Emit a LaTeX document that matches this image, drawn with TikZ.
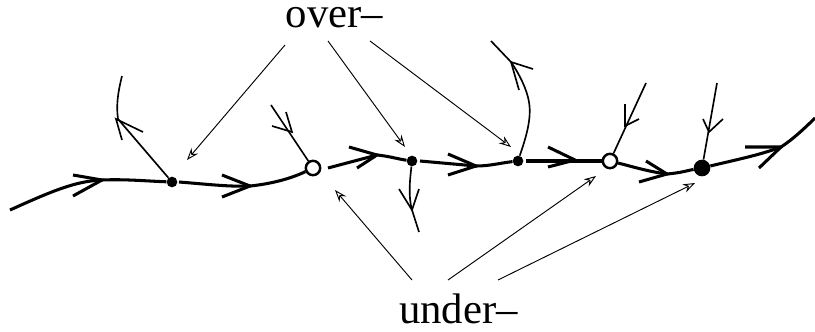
\documentclass[tikz,border=0pt]{standalone}
\usepackage{fontspec}
\setmainfont{Liberation Serif}
\usetikzlibrary{arrows.meta}

\begin{document}
\begin{tikzpicture}[x=0.03cm,y=-0.03cm,
    strand/.style={line width=2.6pt},
    thinstrand/.style={line width=1.4pt},
    pointer/.style={line width=0.8pt,-{Stealth[open,length=3.6mm,width=2.6mm,inset=1.2mm]}},
    crossing/.style={circle,fill=black,inner sep=0pt,minimum size=#1},
    opencrossing/.style={circle,draw,fill=white,line width=2.1pt,inner sep=0pt,minimum size=4.3mm},
    label/.style={font=\fontsize{36.5}{38}\selectfont,inner sep=0pt,anchor=base}]
    \useasboundingbox (0,0) rectangle (815,331);

    % crossings along the line
    \node[crossing=3.2mm] (c1) at (172,182) {};
    \node[opencrossing] (c2) at (313,168) {};
    \node[crossing=3.2mm] (c3) at (412,161) {};
    \node[crossing=3.2mm] (c4) at (518,161) {};
    \node[opencrossing] (c5) at (610,161) {};
    \node[crossing=5mm] (c6) at (702,168) {};

    \node[label] (over) at (334.5,27) {over--};
    \node[label] (under) at (458.5,323) {under--};

    % free ends
    \coordinate (start) at (10,210);
    \coordinate (stop) at (815,118);
    \coordinate (e1) at (122,76);
    \coordinate (e2) at (271,105);
    \coordinate (e3) at (419,232);
    \coordinate (e4) at (491,41);
    \coordinate (e5) at (646,83);
    \coordinate (e6) at (717,83);

    % thick line
    \draw[strand] (start) .. controls (50,192) and (75,181) .. (102,180) .. controls (125,179) and (145,181) .. (c1);
    \draw[strand] (179,182) .. controls (205,184) and (230,187) .. (250,186) .. controls (270,184) and (290,179) .. (c2);
    \draw[strand] (328,168) -- (377,155) .. controls (388,156) and (398,159) .. (c3);
    \draw[strand] (420,161) -- (476,166) .. controls (490,166) and (500,163) .. (c4);
    \draw[strand] (526,161) -- (c5);
    \draw[strand] (c5) .. controls (630,166) and (650,172) .. (667,174) .. controls (680,173) and (690,170) .. (c6);
    \draw[strand] (c6) .. controls (735,160) and (760,155) .. (781,147) .. controls (792,140) and (805,128) .. (stop);
    % barbs on thick line
    \draw[strand] (73,175) -- (102,180) -- (73,196);
    \draw[strand] (222,175) -- (250,186) -- (222,197);
    \draw[strand] (349,147) -- (377,155) -- (357,168);
    \draw[strand] (448,154) -- (476,166) -- (448,175);
    \draw[strand] (548,147) -- (575,160) -- (548,167);
    \draw[strand] (646,161) -- (667,174) -- (639,182);
    \draw[strand] (745,147) -- (781,147) -- (759,168);

    % thin strands
    \draw[thinstrand] (c1) -- (118,119) .. controls (116,105) and (118,92) .. (e1);
    \draw[thinstrand] (122,140) -- (116,119) -- (143,132);
    \draw[thinstrand] (c2) -- (e2);
    \draw[thinstrand] (286,112) -- (292,132) -- (272,126);
    \draw[thinstrand] (c3) .. controls (410,180) and (408,195) .. (412,210) -- (e3);
    \draw[thinstrand] (399,189) -- (412,210) -- (419,189);
    \draw[thinstrand] (c4) .. controls (525,140) and (532,120) .. (529,102) .. controls (527,90) and (520,75) .. (511,62) -- (e4);
    \draw[thinstrand] (519,90) -- (511,62) -- (533,69);
    \draw[thinstrand] (c5) -- (e5);
    \draw[thinstrand] (625,104) -- (625,126) -- (639,119);
    \draw[thinstrand] (c6) -- (e6);
    \draw[thinstrand] (703,119) -- (709,132) -- (723,119);

    % pointers to crossings
    \coordinate (o1) at (187,160);
    \coordinate (o2) at (405,147);
    \coordinate (o3) at (511,147);
    \coordinate (u1) at (335,190);
    \coordinate (u2) at (596,176);
    \coordinate (u3) at (695,183);
    \draw[pointer] (285,45) -- (o1);
    \draw[pointer] (328,41) -- (o2);
    \draw[pointer] (370,41) -- (o3);
    \draw[pointer] (412,280) -- (u1);
    \draw[pointer] (448,280) -- (u2);
    \draw[pointer] (498,280) -- (u3);
\end{tikzpicture}
\end{document}
